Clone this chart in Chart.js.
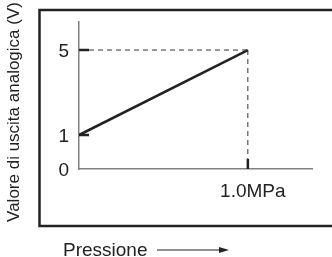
<!DOCTYPE html>
<html>
<head>
<meta charset="utf-8">
<script src="https://cdn.jsdelivr.net/npm/chart.js@4/dist/chart.umd.min.js"></script>
<style>
  html, body { margin: 0; padding: 0; background: #fff; }
  #wrap { width: 332px; height: 257px; }
</style>
</head>
<body>
<div id="wrap"><canvas id="chart1" width="332" height="257"></canvas></div>
<script>
const pressure = [0, 1.0];          // MPa
const output = [1, 5];              // V
const yTicks = [0, 1, 5];
const xTicks = [1.0];
const xTickLabels = ['1.0MPa'];
const yTitle = 'Valore di uscita analogica (V)';
const xTitle = 'Pressione';

// schematic axis: the origin label "0" sits at the bottom of a shortened axis
const yFloor = -0.6;
const yTop = 6.32;
const xMax = 1.38;

const font = '"Liberation Sans", Arial, Helvetica, sans-serif';
const ink = '#222';

const decorations = {
  id: 'decorations',
  beforeDatasetsDraw(chart) {
    const ctx = chart.ctx;
    const x = chart.scales.x, y = chart.scales.y;
    const x0 = x.getPixelForValue(0);
    const y0 = y.getPixelForValue(yFloor);
    const px = x.getPixelForValue(pressure[1]);
    const py = y.getPixelForValue(output[1]);
    ctx.save();
    // dashed guides
    ctx.strokeStyle = '#333';
    ctx.lineWidth = 1;
    ctx.setLineDash([5, 4]);
    ctx.beginPath();
    ctx.moveTo(x0 + 10, py); ctx.lineTo(px, py);
    ctx.moveTo(px, py); ctx.lineTo(px, y0 - 10);
    ctx.stroke();
    ctx.setLineDash([]);
    // inward tick marks
    ctx.strokeStyle = ink;
    ctx.lineWidth = 2.5;
    ctx.beginPath();
    [1, 5].forEach(v => {
      const p = y.getPixelForValue(v);
      ctx.moveTo(x0, p); ctx.lineTo(x0 + 10, p);
    });
    xTicks.forEach(v => {
      const p = x.getPixelForValue(v);
      ctx.moveTo(p, y0); ctx.lineTo(p, y0 - 10);
    });
    ctx.stroke();
    ctx.restore();
  },
  afterDraw(chart) {
    const ctx = chart.ctx;
    ctx.save();
    // outer frame (runs off the right edge)
    ctx.strokeStyle = ink;
    ctx.lineWidth = 2.5;
    ctx.beginPath();
    ctx.moveTo(340, 10); ctx.lineTo(39.5, 10); ctx.lineTo(39.5, 226); ctx.lineTo(340, 226);
    ctx.stroke();
    // y title
    ctx.fillStyle = ink;
    ctx.font = '17px ' + font;
    ctx.textAlign = 'center';
    ctx.textBaseline = 'middle';
    ctx.translate(14, 112);
    ctx.rotate(-Math.PI / 2);
    ctx.fillText(yTitle, 0, 0);
    ctx.restore();
    // x title with arrow
    ctx.save();
    ctx.fillStyle = ink;
    ctx.strokeStyle = ink;
    ctx.font = '19px ' + font;
    ctx.textAlign = 'left';
    ctx.textBaseline = 'alphabetic';
    ctx.fillText(xTitle, 63, 256);
    ctx.lineWidth = 1.2;
    ctx.beginPath();
    ctx.moveTo(157, 250); ctx.lineTo(222, 250);
    ctx.stroke();
    ctx.beginPath();
    ctx.moveTo(229, 250); ctx.lineTo(219, 247); ctx.lineTo(219, 253); ctx.closePath();
    ctx.fill();
    ctx.restore();
  }
};

const chart1 = new Chart(document.getElementById('chart1'), {
  type: 'line',
  data: {
    datasets: [{
      label: 'Uscita',
      data: pressure.map((p, i) => ({ x: p, y: output[i] })),
      borderColor: ink,
      borderWidth: 2.5,
      pointRadius: 0,
      fill: false,
      tension: 0
    }]
  },
  options: {
    responsive: false,
    animation: false,
    layout: { padding: { top: 22, right: 20, left: 0, bottom: 0 } },
    plugins: {
      legend: { display: false },
      tooltip: { enabled: false }
    },
    scales: {
      x: {
        type: 'linear',
        min: 0,
        max: xMax,
        grid: { display: false, drawTicks: false },
        border: { display: true, color: '#808080', width: 1.5 },
        afterBuildTicks: s => { s.ticks = xTicks.map(v => ({ value: v })); },
        afterFit: s => { s.height = 88; },
        ticks: {
          padding: 11,
          labelOffset: 5,
          color: ink,
          font: { family: font, size: 19 },
          maxRotation: 0,
          callback: v => xTickLabels[xTicks.indexOf(v)]
        }
      },
      y: {
        type: 'linear',
        min: yFloor,
        max: yTop,
        grid: { display: false, drawTicks: false },
        border: { display: true, color: '#808080', width: 1.5 },
        afterBuildTicks: s => { s.ticks = yTicks.map(v => ({ value: v === 0 ? yFloor : v })); },
        afterFit: s => { s.width = 79; },
        ticks: {
          padding: 10,
          labelOffset: 2,
          color: ink,
          font: { family: font, size: 19 },
          callback: v => (v === yFloor ? '0' : String(v))
        }
      }
    }
  },
  plugins: [decorations]
});
</script>
</body>
</html>
